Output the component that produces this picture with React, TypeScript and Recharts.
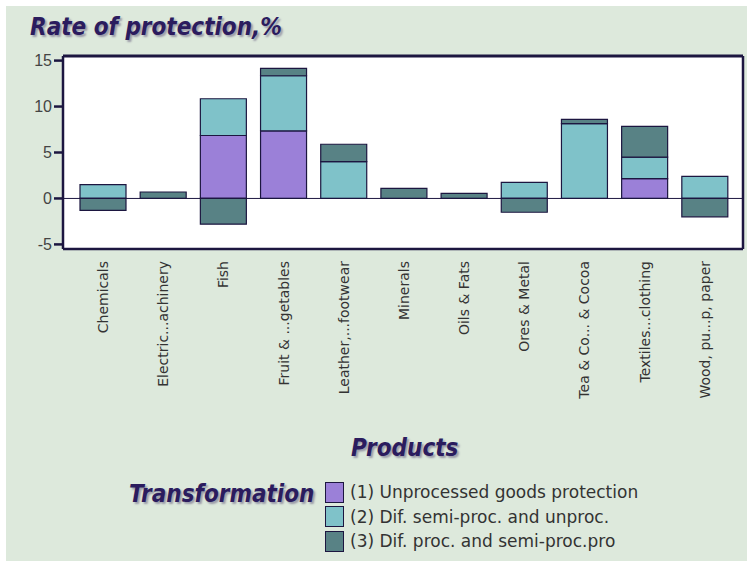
import { BarChart, Bar, XAxis, YAxis, ReferenceLine, CartesianGrid } from "recharts";

const categories = [
  "Chemicals",
  "Electric...achinery",
  "Fish",
  "Fruit & ...getables",
  "Leather,...footwear",
  "Minerals",
  "Oils & Fats",
  "Ores & Metal",
  "Tea & Co... & Cocoa",
  "Textiles...clothing",
  "Wood, pu...p, paper",
];

const unprocessed = [0, 0, 6.85, 7.35, 0, 0, 0, 0, 0, 2.15, 0];
const semiProc = [1.5, 0, 4.0, 6.0, 4.0, 0, 0, 1.75, 8.15, 2.35, 2.4];
const proc = [-1.3, 0.7, -2.8, 0.8, 1.9, 1.1, 0.55, -1.5, 0.45, 3.35, -2.0];

const yTicks = [-5, 0, 5, 10, 15];
const yDomain = [-5.5, 15.5];

const seriesNames = [
  "(1) Unprocessed goods protection",
  "(2) Dif. semi-proc. and unproc.",
  "(3) Dif. proc. and semi-proc.pro",
];
const seriesColors = ["#9b80d8", "#7fc2c9", "#588285"];

const data = categories.map((name, i) => ({
  name,
  s1: unprocessed[i],
  s2: semiProc[i],
  s3: proc[i],
}));

const ink = "#1c1640";
const titleColor = "#2b1c5e";
const titleFont = '"DejaVu Sans Condensed", "DejaVu Sans", sans-serif';

const titleStyle = {
  position: "absolute" as const,
  fontFamily: titleFont,
  fontWeight: "bold",
  fontStyle: "italic",
  fontSize: 24,
  color: titleColor,
  textShadow: "2px 2px 2px #9a9aa8",
};

const XTick = (props: any) => {
  const { x, y, payload } = props;
  return (
    <g transform={`translate(${x},${y})`}>
      <text
        transform="rotate(-90)"
        x={-4}
        dy="0.35em"
        textAnchor="end"
        fontSize={14}
        fontFamily='"DejaVu Sans", sans-serif'
        fill="#333"
      >
        {payload.value}
      </text>
    </g>
  );
};

// right edge of the plot frame, drawn as a grid line
const frameCols = ({ offset }: any) => [offset.left, offset.left + offset.width];

export default function App() {
  return (
    <div
      style={{
        position: "absolute",
        left: 0,
        top: 0,
        width: 753,
        height: 567,
        background: "#fff",
      }}
    >
      <div
        style={{
          position: "absolute",
          left: 6,
          top: 6,
          right: 6,
          bottom: 6,
          background: "#dde9dc",
        }}
      />
      <div style={{ ...titleStyle, left: 30, top: 13 }}>Rate of protection,%</div>
      <div style={{ position: "absolute", left: 0, top: 0 }}>
        <BarChart
          width={753}
          height={567}
          data={data}
          stackOffset="sign"
          barSize={46}
          margin={{ top: 56, right: 10, bottom: 158, left: 0 }}
        >
          <CartesianGrid
            fill="#fff"
            stroke={ink}
            strokeWidth={2.5}
            horizontal={false}
            verticalCoordinatesGenerator={frameCols}
          />
          <XAxis
            dataKey="name"
            interval={0}
            height={160}
            tick={<XTick />}
            tickLine={false}
            axisLine={{ stroke: ink, strokeWidth: 2.5 }}
            padding={{ left: 10, right: 8 }}
          />
          <YAxis
            domain={yDomain}
            ticks={yTicks}
            width={63}
            tickSize={9}
            tick={{ fontSize: 16, fill: "#444", fontFamily: '"Liberation Sans", sans-serif' }}
            tickLine={{ stroke: ink, strokeWidth: 2.5 }}
            axisLine={{ stroke: ink, strokeWidth: 2 }}
            allowDataOverflow
          />
          <Bar dataKey="s1" name={seriesNames[0]} stackId="a" fill={seriesColors[0]} stroke={ink} strokeWidth={1.2} isAnimationActive={false} />
          <Bar dataKey="s2" name={seriesNames[1]} stackId="a" fill={seriesColors[1]} stroke={ink} strokeWidth={1.2} isAnimationActive={false} />
          <Bar dataKey="s3" name={seriesNames[2]} stackId="a" fill={seriesColors[2]} stroke={ink} strokeWidth={1.2} isAnimationActive={false} />
          <ReferenceLine y={0} stroke={ink} strokeWidth={1} />
          <ReferenceLine y={yDomain[1]} stroke={ink} strokeWidth={3} ifOverflow="visible" />
        </BarChart>
      </div>
      <div style={{ ...titleStyle, left: 351, top: 434 }}>Products</div>
      <div style={{ ...titleStyle, left: 129, top: 480 }}>Transformation</div>
      <div style={{ position: "absolute", left: 325, top: 480 }}>
        {seriesNames.map((n, i) => (
          <div key={n} style={{ display: "flex", alignItems: "center", height: 24.5 }}>
            <div
              style={{
                width: 17,
                height: 19,
                background: seriesColors[i],
                border: `1px solid ${ink}`,
                marginRight: 6,
              }}
            />
            <span
              style={{
                fontFamily: '"DejaVu Sans", sans-serif',
                fontSize: 17,
                color: "#333",
              }}
            >
              {n}
            </span>
          </div>
        ))}
      </div>
    </div>
  );
}
